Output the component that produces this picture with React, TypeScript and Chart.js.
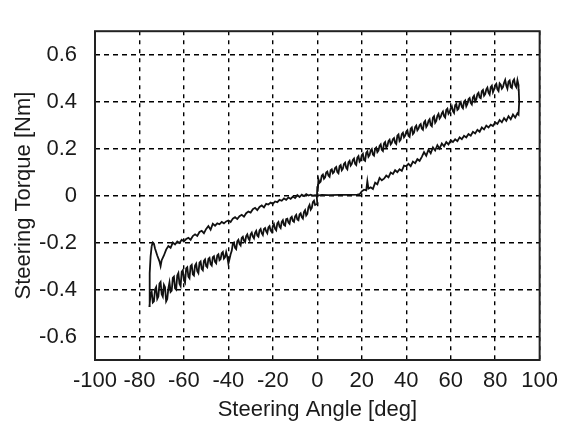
import React, { useEffect, useRef } from "react";
import { Chart, registerables } from "chart.js";

Chart.register(...registerables);

const xTicks = [-100, -80, -60, -40, -20, 0, 20, 40, 60, 80, 100];
const yTicks = [-0.6, -0.4, -0.2, 0, 0.2, 0.4, 0.6];

// Branch 1: upper-left, from -74.5 deg up to 0 deg, then the flat part
const upperLeftAngle = [
  -74.5, -74, -73.5, -73, -72, -71, -70.5, -70, -69, -68, -67, -66, -65, -64, -63, -62, -61, -60,
  -59, -58, -57, -56, -55, -54, -53, -52, -51, -50, -49, -48, -47, -46, -45, -44, -43, -42, -41, -40,
  -39, -38, -37, -36, -35, -34, -33, -32, -31, -30, -29, -28, -27, -26, -25, -24, -23, -22, -21, -20,
  -19, -18, -17, -16, -15, -14, -13, -12, -11, -10, -9, -8, -7, -6, -5, -4, -3, -2, -1, 0,
  2, 5, 10, 15, 18,
];
const upperLeftTorque = [
  -0.215, -0.2, -0.205, -0.225, -0.255, -0.28, -0.3, -0.275, -0.255, -0.23, -0.215, -0.222, -0.2, -0.208, -0.195, -0.202, -0.188, -0.195,
  -0.185, -0.18, -0.188, -0.172, -0.165, -0.172, -0.155, -0.15, -0.16, -0.142, -0.13, -0.145, -0.12, -0.128, -0.118, -0.122, -0.112, -0.118, -0.11, -0.106,
  -0.112, -0.098, -0.092, -0.1, -0.088, -0.082, -0.09, -0.075, -0.068, -0.072, -0.058, -0.052, -0.062, -0.048, -0.042, -0.05, -0.035, -0.038, -0.03, -0.035,
  -0.025, -0.028, -0.018, -0.022, -0.012, -0.018, -0.008, -0.014, -0.004, -0.01, 0.002, -0.006, 0.004, -0.002, 0.006, 0.0, 0.004, 0.0, 0.002, 0.0,
  0.003, 0.002, 0.003, 0.003, 0.004,
];

// Branch 2: lower-right, from 18 deg up to 90.5 deg, then the vertical rise
const lowerRightAngle = [
  19, 20, 21, 22, 22.5, 23, 24, 25, 26, 27, 28, 29, 30, 31, 32, 33, 34, 35, 36, 37, 38, 39, 40,
  41, 42, 43, 44, 45, 46, 47, 48, 49, 50, 51, 52, 53, 54, 55, 56, 57, 58, 59, 60,
  61, 62, 63, 64, 65, 66, 67, 68, 69, 70, 71, 72, 73, 74, 75, 76, 77, 78, 79, 80,
  81, 82, 83, 84, 85, 86, 87, 88, 89, 90, 90.5, 90.8, 90.6,
];
const lowerRightTorque = [
  0.006, 0.018, 0.025, 0.022, 0.062, 0.03, 0.035, 0.028, 0.055, 0.048, 0.075, 0.065, 0.072, 0.085, 0.078, 0.098, 0.092, 0.108, 0.1, 0.112, 0.105, 0.128, 0.125,
  0.135, 0.125, 0.145, 0.138, 0.155, 0.148, 0.165, 0.185, 0.17, 0.195, 0.18, 0.205, 0.192, 0.215, 0.2, 0.222, 0.21, 0.228, 0.218, 0.235,
  0.228, 0.24, 0.232, 0.248, 0.24, 0.255, 0.248, 0.262, 0.255, 0.272, 0.265, 0.28, 0.272, 0.29, 0.282, 0.298, 0.29, 0.302, 0.296, 0.312,
  0.305, 0.322, 0.312, 0.33, 0.318, 0.338, 0.325, 0.345, 0.332, 0.35, 0.345, 0.4, 0.45,
];

// Branch 3: upper-right, from 90 deg back down to 0 deg (half-degree samples), then the drop
const upperRightAngle = [
  90.5, 90, 89.5, 89, 88.5, 88, 87.5, 87, 86.5, 86, 85.5, 85, 84.5, 84, 83.5, 83, 82.5, 82, 81.5, 81, 80.5, 80,
  79.5, 79, 78.5, 78, 77.5, 77, 76.5, 76, 75.5, 75, 74.5, 74, 73.5, 73, 72.5, 72, 71.5, 71, 70.5, 70,
  69.5, 69, 68.5, 68, 67.5, 67, 66.5, 66, 65.5, 65, 64.5, 64, 63.5, 63, 62.5, 62, 61.5, 61, 60.5, 60,
  59.5, 59, 58.5, 58, 57.5, 57, 56.5, 56, 55.5, 55, 54.5, 54, 53.5, 53, 52.5, 52, 51.5, 51, 50.5, 50,
  49.5, 49, 48.5, 48, 47.5, 47, 46.5, 46, 45.5, 45, 44.5, 44, 43.5, 43, 42.5, 42, 41.5, 41, 40.5, 40,
  39.5, 39, 38.5, 38, 37.5, 37, 36.5, 36, 35.5, 35, 34.5, 34, 33.5, 33, 32.5, 32, 31.5, 31, 30.5, 30,
  29.5, 29, 28.5, 28, 27.5, 27, 26.5, 26, 25.5, 25, 24.5, 24, 23.5, 23, 22.5, 22, 21.5, 21, 20.5, 20,
  19.5, 19, 18.5, 18, 17.5, 17, 16.5, 16, 15.5, 15, 14.5, 14, 13.5, 13, 12.5, 12, 11.5, 11, 10.5, 10,
  9.5, 9, 8.5, 8, 7.5, 7, 6.5, 6, 5.5, 5, 4.5, 4, 3.5, 3, 2.5, 2, 1.5, 1,
  0.5, 0.2, 0, -0.2, 0,
];
const upperRightTorque = [
  0.47, 0.492, 0.462, 0.47, 0.495, 0.488, 0.458, 0.462, 0.49, 0.485, 0.455, 0.468, 0.492, 0.48, 0.462, 0.455, 0.472, 0.478, 0.445, 0.452, 0.476, 0.47,
  0.452, 0.44, 0.468, 0.462, 0.43, 0.438, 0.46, 0.452, 0.432, 0.425, 0.45, 0.445, 0.415, 0.418, 0.438, 0.432, 0.41, 0.402, 0.425, 0.418,
  0.388, 0.395, 0.415, 0.41, 0.39, 0.38, 0.405, 0.4, 0.372, 0.378, 0.398, 0.392, 0.37, 0.365, 0.39, 0.385, 0.352, 0.36, 0.38, 0.372,
  0.355, 0.348, 0.37, 0.365, 0.332, 0.338, 0.358, 0.35, 0.335, 0.328, 0.348, 0.34, 0.318, 0.31, 0.338, 0.332, 0.295, 0.3, 0.325, 0.318,
  0.3, 0.292, 0.318, 0.312, 0.28, 0.285, 0.305, 0.3, 0.285, 0.278, 0.298, 0.292, 0.268, 0.262, 0.29, 0.285, 0.25, 0.255, 0.278, 0.272,
  0.255, 0.248, 0.268, 0.262, 0.238, 0.232, 0.26, 0.255, 0.22, 0.225, 0.245, 0.24, 0.225, 0.218, 0.238, 0.232, 0.21, 0.205, 0.228, 0.222,
  0.19, 0.195, 0.218, 0.212, 0.192, 0.185, 0.205, 0.2, 0.17, 0.175, 0.198, 0.192, 0.172, 0.165, 0.188, 0.182, 0.148, 0.152, 0.178, 0.172,
  0.152, 0.145, 0.168, 0.162, 0.13, 0.135, 0.158, 0.152, 0.135, 0.128, 0.148, 0.142, 0.112, 0.118, 0.14, 0.135, 0.115, 0.108, 0.13, 0.125,
  0.095, 0.1, 0.122, 0.118, 0.1, 0.095, 0.112, 0.108, 0.08, 0.085, 0.102, 0.098, 0.078, 0.072, 0.09, 0.085, 0.06, 0.055,
  0.07, 0.02, 0.04, -0.01, -0.035,
];

// Branch 4: lower-left, from 0 deg down to -75.5 deg (half-degree samples), then the vertical rise
const lowerLeftAngle = [
  -1, -1.5, -2, -2.5, -3, -3.5, -4, -4.5, -5, -5.5, -6, -6.5, -7, -7.5, -8, -8.5, -9, -9.5, -10, -10.5,
  -11, -11.5, -12, -12.5, -13, -13.5, -14, -14.5, -15, -15.5, -16, -16.5, -17, -17.5, -18, -18.5, -19, -19.5, -20, -20.5,
  -21, -21.5, -22, -22.5, -23, -23.5, -24, -24.5, -25, -25.5, -26, -26.5, -27, -27.5, -28, -28.5, -29, -29.5, -30, -30.5,
  -31, -31.5, -32, -32.5, -33, -33.5, -34, -34.5, -35, -35.5, -36, -36.5, -37, -37.5, -38, -38.5, -39, -39.5, -40, -40.5,
  -41, -41.5, -42, -42.5, -43, -43.5, -44, -44.5, -45, -45.5, -46, -46.5, -47, -47.5, -48, -48.5, -49, -49.5, -50, -50.5,
  -51, -51.5, -52, -52.5, -53, -53.5, -54, -54.5, -55, -55.5, -56, -56.5, -57, -57.5, -58, -58.5, -59, -59.5, -60, -60.5,
  -61, -61.5, -62, -62.5, -63, -63.5, -64, -64.5, -65, -65.5, -66, -66.5, -67, -67.5, -68, -68.5, -69, -69.5, -70, -70.5,
  -71, -71.5, -72, -72.5, -73, -73.5, -74, -74.5, -75, -75.5,
  -75.5, -75.3, -75, -74.5,
];
const lowerLeftTorque = [
  -0.04, -0.022, -0.028, -0.052, -0.06, -0.04, -0.05, -0.078, -0.085, -0.062, -0.07, -0.098, -0.092, -0.075, -0.08, -0.105, -0.102, -0.082, -0.088, -0.112,
  -0.108, -0.09, -0.095, -0.12, -0.115, -0.098, -0.1, -0.128, -0.125, -0.105, -0.112, -0.138, -0.132, -0.112, -0.118, -0.148, -0.142, -0.122, -0.13, -0.155,
  -0.148, -0.13, -0.135, -0.16, -0.152, -0.138, -0.142, -0.168, -0.16, -0.142, -0.148, -0.175, -0.17, -0.15, -0.158, -0.182, -0.175, -0.158, -0.165, -0.19,
  -0.182, -0.165, -0.172, -0.198, -0.192, -0.175, -0.18, -0.212, -0.205, -0.188, -0.195, -0.228, -0.222, -0.2, -0.205, -0.235, -0.25, -0.27, -0.29, -0.26,
  -0.24, -0.262, -0.268, -0.24, -0.245, -0.27, -0.275, -0.25, -0.255, -0.288, -0.282, -0.258, -0.262, -0.298, -0.292, -0.265, -0.27, -0.305, -0.3, -0.272,
  -0.278, -0.318, -0.312, -0.28, -0.285, -0.33, -0.322, -0.29, -0.298, -0.34, -0.335, -0.295, -0.3, -0.352, -0.345, -0.305, -0.31, -0.37, -0.36, -0.318,
  -0.325, -0.385, -0.375, -0.33, -0.34, -0.4, -0.395, -0.345, -0.35, -0.405, -0.41, -0.37, -0.395, -0.44, -0.45, -0.39, -0.38, -0.43, -0.42, -0.368,
  -0.375, -0.43, -0.44, -0.39, -0.4, -0.45, -0.455, -0.41, -0.42, -0.47,
  -0.4, -0.33, -0.26, -0.215,
];

const FONT = { family: "'Liberation Sans', Arial, sans-serif", size: 22 };
const TEXT = "#1a1a1a";

function toPoints(a: number[], t: number[]) {
  return a.map((x, i) => ({ x, y: t[i] }));
}

const framePlugin = {
  id: "frame",
  afterDraw(chart: any) {
    const { ctx, chartArea } = chart;
    ctx.save();
    ctx.strokeStyle = "#222";
    ctx.lineWidth = 2;
    ctx.setLineDash([]);
    ctx.strokeRect(chartArea.left, chartArea.top, chartArea.right - chartArea.left, chartArea.bottom - chartArea.top);
    ctx.restore();
  },
};

export default function App() {
  const ref = useRef<HTMLCanvasElement | null>(null);
  useEffect(() => {
    if (!ref.current) return;
    const data = [
      ...toPoints(upperLeftAngle, upperLeftTorque),
      ...toPoints(lowerRightAngle, lowerRightTorque),
      ...toPoints(upperRightAngle, upperRightTorque),
      ...toPoints(lowerLeftAngle, lowerLeftTorque),
    ];
    const chart = new Chart(ref.current, {
      type: "scatter",
      data: {
        datasets: [
          {
            data,
            showLine: true,
            borderColor: "#111",
            borderWidth: 1.8,
            pointRadius: 0,
            tension: 0,
          },
        ],
      },
      options: {
        animation: false,
        responsive: false,
        maintainAspectRatio: false,
        layout: { padding: { top: 5, right: 23, left: 0, bottom: 0 } },
        plugins: { legend: { display: false }, tooltip: { enabled: false } },
        scales: {
          x: {
            type: "linear",
            min: -100,
            max: 100,
            afterBuildTicks: (s: any) => {
              s.ticks = xTicks.map((v) => ({ value: v }));
            },
            afterFit: (s: any) => {
              s.height = 65;
            },
            grid: { color: "#000", lineWidth: 1.4, drawTicks: false },
            border: { display: false, dash: [4, 5] },
            ticks: {
              padding: 8,
              font: FONT,
              color: TEXT,
              maxRotation: 0,
              autoSkip: false,
              callback: (v: any) => String(v),
            },
            title: {
              display: true,
              text: "Steering Angle [deg]",
              font: FONT,
              color: TEXT,
              padding: { top: 0, bottom: 2 },
            },
          },
          y: {
            type: "linear",
            min: -0.7,
            max: 0.7,
            afterBuildTicks: (s: any) => {
              s.ticks = yTicks.map((v) => ({ value: v }));
            },
            afterFit: (s: any) => {
              s.width = 95;
            },
            grid: { color: "#000", lineWidth: 1.4, drawTicks: false },
            border: { display: false, dash: [5, 4] },
            ticks: {
              padding: 18,
              font: FONT,
              color: TEXT,
              autoSkip: false,
              callback: (v: any) => String(v),
            },
            title: {
              display: true,
              text: "Steering Torque [Nm]",
              font: FONT,
              color: TEXT,
              padding: { top: 11, bottom: 0 },
            },
          },
        },
      },
      plugins: [framePlugin],
    } as any);
    return () => chart.destroy();
  }, []);
  return (
    <div style={{ position: "fixed", left: 0, top: 0, width: 566, height: 425, background: "#fff" }}>
      <canvas ref={ref} width={566} height={425} style={{ width: 566, height: 425 }} />
    </div>
  );
}
